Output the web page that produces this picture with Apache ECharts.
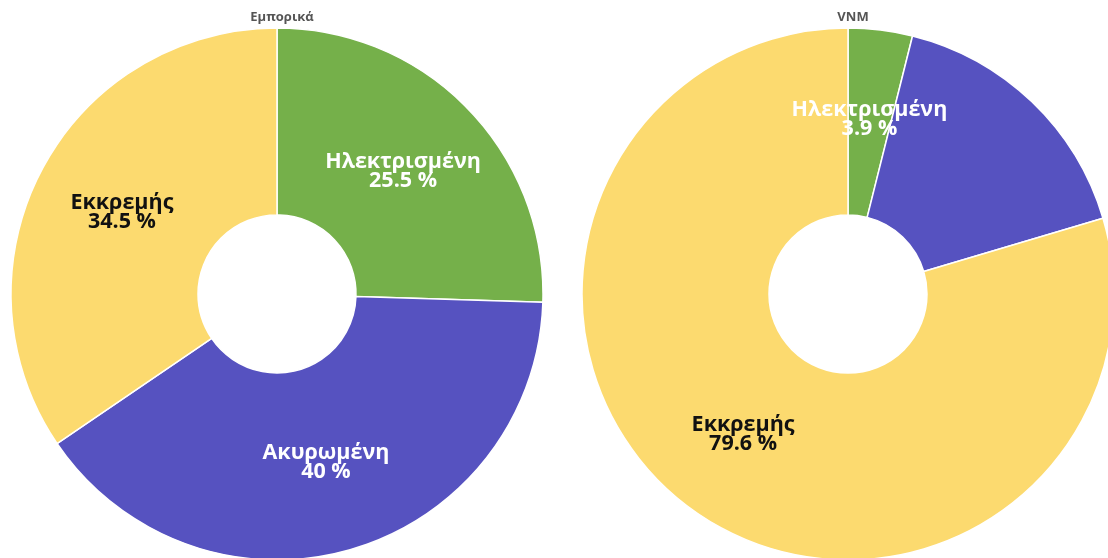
<!DOCTYPE html>
<html>
<head>
<meta charset="utf-8">
<script src="https://cdn.jsdelivr.net/npm/echarts@6/dist/echarts.min.js"></script>
<style>
html,body{margin:0;padding:0;background:#fff;}
#chart{width:1108px;height:558px;}
</style>
</head>
<body>
<div id="chart"></div>
<script>
const categories = ['Ηλεκτρισμένη', 'Ακυρωμένη', 'Εκκρεμής'];
const titles = ['Εμπορικά', 'VNM'];
const valuesEmporika = [25.5, 40, 34.5];
const valuesVNM = [3.9, 16.5, 79.6];
const showLabelVNM = [true, false, true];
const colors = ['#75B04A', '#5652C0', '#FCDA6F'];
const labelColors = ['#ffffff', '#ffffff', '#111111'];

function buildData(values, shows) {
  return categories.map((c, i) => ({
    name: c,
    value: values[i],
    itemStyle: { color: colors[i] },
    label: { show: shows ? shows[i] : true, color: labelColors[i] }
  }));
}

const chart = echarts.init(document.getElementById('chart'));
const common = {
  type: 'pie',
  radius: [79, 266],
  clockwise: true,
  startAngle: 90,
  avoidLabelOverlap: false,
  itemStyle: { borderColor: '#ffffff', borderWidth: 1.5 },
  label: {
    position: 'inside',
    formatter: '{b}\n{d} %',
    fontFamily: 'Open Sans',
    fontWeight: 'bold',
    fontSize: 21.5,
    lineHeight: 19
  },
  labelLine: { show: false },
  emphasis: { disabled: true }
};
chart.setOption({
  animation: false,
  title: [
    { text: titles[0], left: 277, top: 6, textAlign: 'center',
      textStyle: { fontSize: 13, fontWeight: 'bold', color: '#555', fontFamily: 'Open Sans' } },
    { text: titles[1], left: 848, top: 6, textAlign: 'center',
      textStyle: { fontSize: 13, fontWeight: 'bold', color: '#555', fontFamily: 'Open Sans' } }
  ],
  series: [
    Object.assign({}, common, { center: [277, 294], data: buildData(valuesEmporika) }),
    Object.assign({}, common, { center: [848, 294], data: buildData(valuesVNM, showLabelVNM) })
  ]
});
</script>
</body>
</html>
